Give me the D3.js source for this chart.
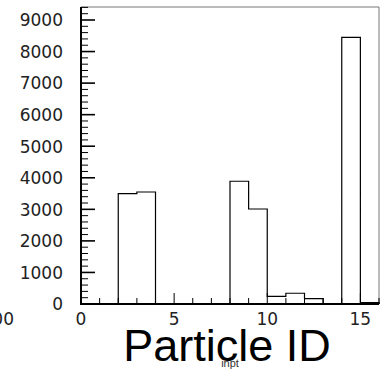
<!DOCTYPE html>
<html>
<head>
<meta charset="utf-8">
<script src="https://cdn.jsdelivr.net/npm/d3@7"></script>
<style>
  body { margin: 0; background: #fff; }
  svg { display: block; }
</style>
</head>
<body>
<div id="chart"></div>
<script>
// histogram bins (width 1) and their counts
var binEdges = [0, 1, 2, 3, 4, 5, 6, 7, 8, 9, 10, 11, 12, 13, 14, 15, 16];
var counts = [0, 0, 3500, 3550, 0, 0, 0, 0, 3890, 3010, 240, 340, 170, 0, 8450, 45];
var xTickLabels = [0, 5, 10, 15];
var yTickLabels = [0, 1000, 2000, 3000, 4000, 5000, 6000, 7000, 8000, 9000];

var svgWidth = 384;
var svgHeight = 372;

var svg = d3.select("#chart")
  .append("svg")
  .attr("width", svgWidth)
  .attr("height", svgHeight);

// scales
var x = d3.scaleLinear().domain([0, 16]).range([81, 379]);
var y = d3.scaleLinear().domain([0, 9412]).range([304, 7]);

// frame (top / right)
svg.append("path")
  .attr("d", `M${x(0)},${y(9412)}H${x(16)}V${y(0)}`)
  .attr("fill", "none")
  .attr("stroke", "#777")
  .attr("stroke-width", 1);

// histogram outline as steps
var pts = [[0, 0]];
counts.forEach(function(c, i) {
  pts.push([binEdges[i], c]);
  pts.push([binEdges[i + 1], c]);
});
pts.push([16, 0]);

var line = d3.line()
  .x(d => x(d[0]))
  .y(d => y(d[1]));

svg.append("path")
  .datum(pts)
  .attr("d", line)
  .attr("fill", "none")
  .attr("stroke", "#000")
  .attr("stroke-width", 1.2);

// y ticks: major every 1000, minor every 200
var yMinor = d3.range(0, 9401, 200);
svg.append("g").selectAll("line")
  .data(yMinor)
  .enter()
  .append("line")
  .attr("x1", x(0))
  .attr("x2", d => x(0) + (d % 1000 === 0 ? 14 : 7))
  .attr("y1", d => y(d))
  .attr("y2", d => y(d))
  .attr("stroke", "#000")
  .attr("stroke-width", d => d % 1000 === 0 ? 1.6 : 1);

// x ticks: every integer, major every 5
var xMinor = d3.range(0, 17, 1);
svg.append("g").selectAll("line")
  .data(xMinor)
  .enter()
  .append("line")
  .attr("x1", d => x(d))
  .attr("x2", d => x(d))
  .attr("y1", y(0))
  .attr("y2", d => y(0) - (d % 5 === 0 ? 11 : 6))
  .attr("stroke", "#000")
  .attr("stroke-width", 1);

// axis lines
svg.append("line")
  .attr("x1", x(0)).attr("x2", x(0))
  .attr("y1", y(9412)).attr("y2", y(0) + 1)
  .attr("stroke", "#000").attr("stroke-width", 2);
svg.append("line")
  .attr("x1", x(0) - 1).attr("x2", x(16))
  .attr("y1", y(0)).attr("y2", y(0))
  .attr("stroke", "#000").attr("stroke-width", 2);

// tick labels
svg.append("g").selectAll("text")
  .data(yTickLabels)
  .enter()
  .append("text")
  .attr("x", 63)
  .attr("y", d => y(d))
  .attr("dy", "0.37em")
  .attr("text-anchor", "end")
  .attr("font-family", "DejaVu Sans")
  .attr("font-size", 17)
  .attr("fill", "#222")
  .text(d => d);

svg.append("g").selectAll("text")
  .data(xTickLabels)
  .enter()
  .append("text")
  .attr("x", d => x(d))
  .attr("y", 324.5)
  .attr("text-anchor", "middle")
  .attr("font-family", "DejaVu Sans")
  .attr("font-size", 17)
  .attr("fill", "#222")
  .text(d => d);

// clipped label from the neighbouring pad
svg.append("text")
  .attr("x", 14)
  .attr("y", 324.5)
  .attr("text-anchor", "end")
  .attr("font-family", "DejaVu Sans")
  .attr("font-size", 17)
  .attr("fill", "#222")
  .text("200");

// axis title
svg.append("text")
  .attr("x", 227)
  .attr("y", 360.5)
  .attr("text-anchor", "middle")
  .attr("font-family", "Liberation Sans")
  .attr("font-size", 45)
  .attr("fill", "#000")
  .text("Particle ID");

svg.append("text")
  .attr("x", 230)
  .attr("y", 366.5)
  .attr("text-anchor", "middle")
  .attr("font-family", "Liberation Sans")
  .attr("font-size", 11)
  .attr("fill", "#333")
  .text("inpt");
</script>
</body>
</html>
